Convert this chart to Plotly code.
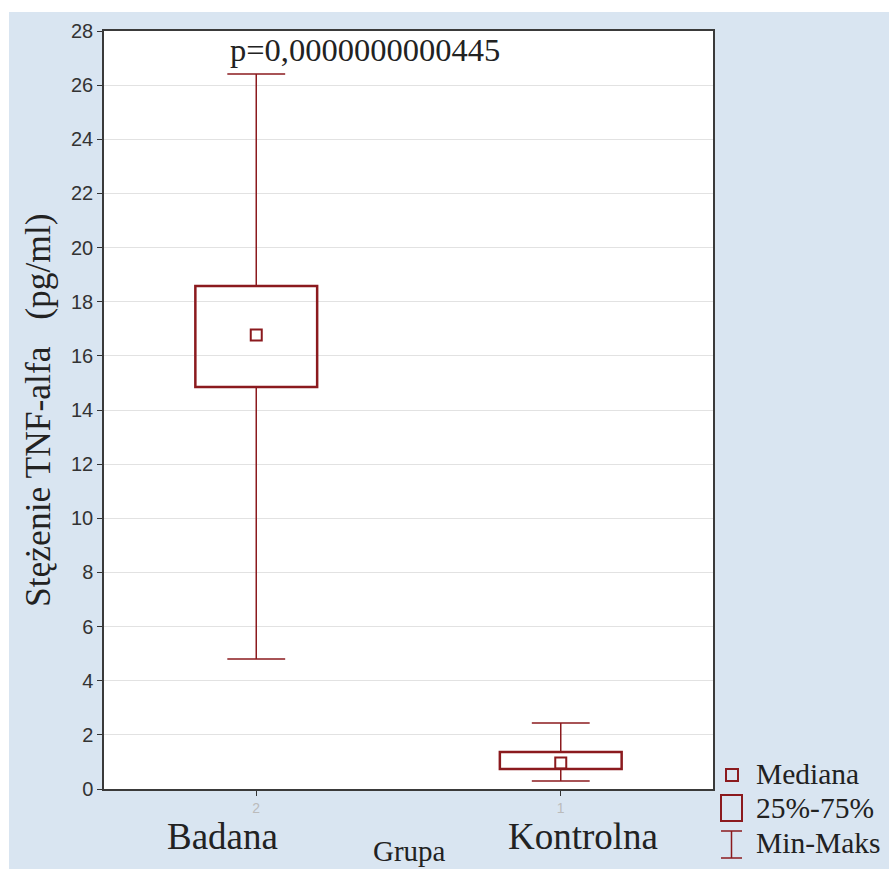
import plotly.graph_objects as go

# ---- data ----
groups = ["Badana", "Kontrolna"]
group_codes = ["2", "1"]
mins = [4.80, 0.30]
q1 = [14.85, 0.74]
medians = [16.77, 0.96]
q3 = [18.58, 1.37]
maxs = [26.41, 2.44]
p_text = "p=0,0000000000445"
y_ticks = list(range(0, 30, 2))

# ---- style ----
RED = "#8B1A1E"
BLUE = "#D9E5F1"
SERIF = "Liberation Serif, Times New Roman, serif"
SANS = "Liberation Sans, Arial, sans-serif"
W, H = 889, 869
L, R, T, B = 104, 713, 31, 789
BOX_HW = 0.2
CAP_HW = 0.095
LABEL_X = [222, 583]  # pixel centres of the group names


def px(xp):
    return (xp - L) / (R - L)


def py(yp):
    return (B - yp) / (B - T)


xs = list(range(len(groups)))
fig = go.Figure()
shapes = []

for i, x in enumerate(xs):
    # whiskers
    fig.add_trace(go.Scatter(
        x=[x, x, None, x, x, None, x - CAP_HW, x + CAP_HW, None, x - CAP_HW, x + CAP_HW],
        y=[mins[i], q1[i], None, q3[i], maxs[i], None, mins[i], mins[i], None, maxs[i], maxs[i]],
        mode="lines", line=dict(color=RED, width=1.5), showlegend=False, hoverinfo="skip"))
    # box
    shapes.append(dict(type="rect", xref="x", yref="y", x0=x - BOX_HW, x1=x + BOX_HW,
                       y0=q1[i], y1=q3[i], line=dict(color=RED, width=2.5), layer="above"))

fig.add_trace(go.Scatter(
    x=xs, y=medians, mode="markers",
    marker=dict(symbol="square-open", size=11, color=RED, line=dict(width=2, color=RED)),
    showlegend=False, hoverinfo="skip"))

# background strips (paper is blue, but top/left margins white)
shapes.append(dict(type="rect", xref="paper", yref="paper", x0=px(0), x1=px(W), y0=py(12), y1=py(0),
                   fillcolor="white", line=dict(width=0), layer="below"))
shapes.append(dict(type="rect", xref="paper", yref="paper", x0=px(0), x1=px(9), y0=py(H), y1=py(0),
                   fillcolor="white", line=dict(width=0), layer="below"))

# legend icons
shapes.append(dict(type="rect", xref="paper", yref="paper", x0=px(726), x1=px(738), y0=py(781), y1=py(769),
                   line=dict(color=RED, width=2)))
shapes.append(dict(type="rect", xref="paper", yref="paper", x0=px(721), x1=px(742), y0=py(821), y1=py(795),
                   line=dict(color=RED, width=2)))
shapes.append(dict(type="line", xref="paper", yref="paper", x0=px(731.5), x1=px(731.5), y0=py(858), y1=py(831),
                   line=dict(color=RED, width=1.5)))
shapes.append(dict(type="line", xref="paper", yref="paper", x0=px(721), x1=px(742), y0=py(831), y1=py(831),
                   line=dict(color=RED, width=1.5)))
shapes.append(dict(type="line", xref="paper", yref="paper", x0=px(721), x1=px(742), y0=py(858), y1=py(858),
                   line=dict(color=RED, width=1.5)))

annotations = []
for txt, yy in [("Mediana", 774), ("25%-75%", 808), ("Min-Maks", 843)]:
    annotations.append(dict(text=txt, xref="paper", yref="paper", x=px(754), y=py(yy),
                            xanchor="left", yanchor="middle", showarrow=False,
                            font=dict(family=SERIF, size=29.5, color="#222")))

for i, x in enumerate(xs):
    annotations.append(dict(text=groups[i], xref="paper", yref="paper", x=px(LABEL_X[i]), y=py(836),
                            xanchor="center", yanchor="middle", showarrow=False,
                            font=dict(family=SERIF, size=37, color="#222")))

annotations.append(dict(text="Grupa", xref="paper", yref="paper", x=px(409), y=py(851),
                        xanchor="center", yanchor="middle", showarrow=False,
                        font=dict(family=SERIF, size=29, color="#222")))
annotations.append(dict(text="Stężenie TNF-alfa&nbsp;&nbsp;&nbsp;(pg/ml)", xref="paper", yref="paper",
                        x=px(38), y=py(410), textangle=-90,
                        xanchor="center", yanchor="middle", showarrow=False,
                        font=dict(family=SERIF, size=35.5, color="#222")))
annotations.append(dict(text=p_text, xref="paper", yref="paper", x=px(365), y=py(50),
                        xanchor="center", yanchor="middle", showarrow=False,
                        font=dict(family=SERIF, size=32.5, color="#222")))

fig.update_layout(
    width=W, height=H,
    margin=dict(l=L, r=W - R, t=T, b=H - B, pad=0),
    paper_bgcolor=BLUE, plot_bgcolor="white",
    shapes=shapes, annotations=annotations, showlegend=False,
    xaxis=dict(range=[-0.5, 1.5], tickvals=xs, ticktext=group_codes,
               tickfont=dict(family=SANS, size=14, color="#bbbbbb"),
               ticks="outside", ticklen=5, tickcolor="#333", showgrid=False,
               showline=True, linecolor="#3a3a3a", linewidth=1.5, mirror=True, zeroline=False),
    yaxis=dict(range=[0, 28], tickvals=y_ticks,
               tickfont=dict(family=SANS, size=20, color="#333"),
               ticks="outside", ticklen=5, tickcolor="#333",
               showgrid=True, gridcolor="#e2e2e2", gridwidth=1,
               showline=True, linecolor="#3a3a3a", linewidth=1.5, mirror=True, zeroline=False),
)

fig.write_html("out.html")
